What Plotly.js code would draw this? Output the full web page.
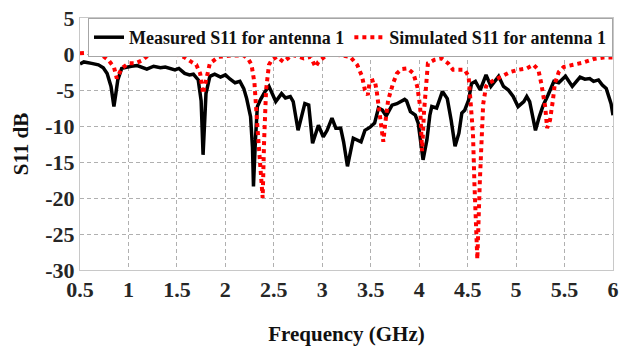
<!DOCTYPE html>
<html>
<head>
<meta charset="utf-8">
<script src="https://cdn.plot.ly/plotly-3.0.1.min.js"></script>
<style>
html,body{margin:0;padding:0;background:#fff;}
#chart{width:620px;height:349px;}
#warm{position:absolute;left:-2000px;top:0;font-family:'Liberation Serif';font-weight:bold;font-size:22px;}
</style>
</head>
<body>
<div id="warm">Frequency (GHz) S11 dB 0123456789.- Measured Simulated antenna</div>
<div id="chart"></div>
<script>
const measFreq = [0.50,0.54,0.62,0.69,0.74,0.78,0.82,0.85,0.87,0.89,0.93,0.98,1.03,1.09,1.14,1.19,1.26,1.33,1.38,1.43,1.48,1.52,1.58,1.63,1.67,1.72,1.75,1.77,1.79,1.80,1.84,1.89,1.95,2.00,2.05,2.10,2.15,2.19,2.22,2.26,2.28,2.29,2.31,2.33,2.36,2.41,2.45,2.52,2.58,2.62,2.67,2.70,2.75,2.82,2.86,2.90,2.96,3.01,3.05,3.10,3.14,3.19,3.22,3.26,3.32,3.36,3.40,3.44,3.49,3.54,3.58,3.62,3.66,3.72,3.77,3.85,3.87,3.91,3.96,3.99,4.02,4.04,4.08,4.11,4.13,4.18,4.24,4.29,4.33,4.37,4.41,4.44,4.47,4.51,4.54,4.58,4.63,4.69,4.74,4.82,4.87,4.92,4.97,5.02,5.08,5.11,5.14,5.20,5.24,5.28,5.33,5.39,5.44,5.51,5.58,5.66,5.71,5.76,5.80,5.85,5.89,5.93,5.98,6.00];
const measS11 = [-1.4,-1.1,-1.3,-1.5,-1.9,-2.7,-4.5,-7.3,-5.5,-3.6,-2.0,-1.8,-1.7,-1.6,-1.9,-2.1,-1.7,-1.9,-1.8,-2.0,-2.2,-2.0,-2.7,-2.9,-2.8,-3.6,-6.5,-14.0,-9.0,-5.5,-3.1,-2.8,-3.2,-2.9,-3.5,-4.0,-3.8,-4.8,-6.2,-8.7,-13.0,-18.4,-12.0,-7.3,-6.4,-5.2,-4.5,-6.6,-5.5,-6.1,-5.9,-6.6,-10.6,-6.9,-7.1,-12.4,-9.9,-11.5,-10.6,-8.9,-10.3,-10.3,-12.2,-15.6,-11.7,-11.9,-12.2,-10.6,-10.2,-9.6,-7.5,-7.8,-8.6,-7.1,-6.9,-6.3,-6.5,-8.0,-8.5,-9.6,-12.5,-14.7,-11.9,-8.5,-7.3,-7.5,-5.2,-6.2,-9.2,-12.8,-11.0,-8.2,-7.8,-6.4,-4.1,-3.8,-5.0,-2.9,-4.5,-3.1,-4.5,-5.0,-5.9,-7.3,-6.6,-5.9,-6.6,-10.6,-8.7,-7.1,-5.7,-3.8,-4.0,-3.1,-4.5,-3.2,-3.5,-3.4,-3.8,-3.6,-4.3,-4.8,-6.9,-8.5];

const simFreq = [0.50,0.62,0.72,0.79,0.85,0.88,0.93,1.00,1.07,1.14,1.21,1.31,1.48,1.57,1.65,1.70,1.74,1.77,1.81,1.84,1.93,2.06,2.19,2.24,2.27,2.30,2.33,2.36,2.385,2.40,2.42,2.45,2.48,2.53,2.60,2.69,2.81,2.88,2.93,2.96,3.05,3.15,3.29,3.36,3.41,3.44,3.47,3.49,3.54,3.56,3.60,3.63,3.65,3.68,3.73,3.77,3.82,3.88,3.94,3.98,4.01,4.03,4.05,4.07,4.09,4.16,4.23,4.30,4.35,4.41,4.47,4.51,4.53,4.555,4.57,4.60,4.625,4.64,4.66,4.69,4.71,4.78,4.85,4.94,5.02,5.11,5.18,5.23,5.26,5.30,5.32,5.35,5.38,5.40,5.44,5.49,5.59,5.69,5.80,5.90,6.00];
const simS11 = [0.1,0.2,-0.1,-0.8,-1.8,-3.4,-2.0,-1.3,-1.3,-0.9,-0.1,0.0,0.0,-0.4,-1.1,-1.5,-2.7,-5.5,-3.1,-1.3,-0.4,-0.2,-0.2,-0.8,-1.5,-4.0,-10.0,-16.0,-20.0,-12.0,-5.0,-1.5,-0.8,-0.4,-1.1,-0.1,-0.6,-0.4,-1.8,-1.1,-0.1,-0.1,-0.4,-1.5,-3.1,-5.0,-5.7,-3.8,-3.6,-5.0,-8.7,-12.2,-9.6,-6.4,-4.1,-2.7,-2.1,-2.0,-2.7,-4.5,-7.3,-13.5,-8.0,-3.6,-1.3,-0.8,-0.6,-1.3,-2.2,-2.2,-2.2,-3.1,-6.4,-11.0,-18.0,-28.5,-18.0,-12.0,-7.0,-4.5,-4.1,-3.6,-3.1,-2.5,-2.2,-2.0,-1.5,-2.2,-4.1,-7.3,-10.3,-9.2,-6.4,-4.1,-2.5,-1.8,-1.5,-1.2,-0.7,-0.5,-0.5];

const xTicks = [0.5,1,1.5,2,2.5,3,3.5,4,4.5,5,5.5,6];
const xTickText = ['0.5','1','1.5','2','2.5','3','3.5','4','4.5','5','5.5','6'];
const yTicks = [5,0,-5,-10,-15,-20,-25,-30];
const yTickText = ['5','0','-5','-10','-15','-20','-25','-30'];

const serif = "Liberation Serif";

const traces = [
  {x: measFreq, y: measS11, type: 'scatter', mode: 'lines', name: 'Measured S11 for antenna 1',
   line: {color: '#000000', width: 3.5}},
  {x: simFreq, y: simS11, type: 'scatter', mode: 'lines', name: 'Simulated S11 for antenna 1',
   line: {color: '#ff0000', width: 4, dash: 'dot'}}
];

function makeLayout() {
  return {
    width: 620, height: 349,
    font: {family: serif},
    margin: {l: 80, r: 7, t: 18, b: 79},
    paper_bgcolor: '#ffffff', plot_bgcolor: '#ffffff',
    showlegend: true,
    legend: {orientation: 'h', x: 1, xanchor: 'right', y: 1, yanchor: 'top',
      bgcolor: '#ffffff', bordercolor: '#a6a6a6', borderwidth: 1,
      font: {family: serif, size: 18, color: '#111111', weight: 'bold'},
      itemwidth: 30, tracegroupgap: 0},
    xaxis: {range: [0.5, 6], tickvals: xTicks, ticktext: xTickText,
      showgrid: true, gridcolor: '#b0b0b0', griddash: '4px,3px', gridwidth: 1,
      showline: true, linecolor: '#c8c8c8', linewidth: 1, mirror: true,
      zeroline: false,
      tickfont: {family: serif, size: 22, color: '#262626', weight: 'bold'},
      title: {text: 'Frequency (GHz)', standoff: 24, font: {family: serif, size: 21, color: '#111111', weight: 'bold'}}},
    yaxis: {range: [-30, 5], tickvals: yTicks, ticktext: yTickText,
      showgrid: true, gridcolor: '#b0b0b0', griddash: '4px,3px', gridwidth: 1,
      showline: true, linecolor: '#c8c8c8', linewidth: 1, mirror: true,
      zeroline: false,
      tickfont: {family: serif, size: 22, color: '#262626', weight: 'bold'},
      title: {text: 'S11 dB', standoff: 10, font: {family: serif, size: 21, color: '#111111', weight: 'bold'}}}
  };
}

const cfg = {displayModeBar: false, staticPlot: true};
Plotly.newPlot('chart', traces, makeLayout(), cfg);
if (document.fonts && document.fonts.load) {
  document.fonts.load("bold 22px 'Liberation Serif'").then(function () {
    Plotly.newPlot('chart', traces, makeLayout(), cfg);
  });
}
</script>
</body>
</html>
